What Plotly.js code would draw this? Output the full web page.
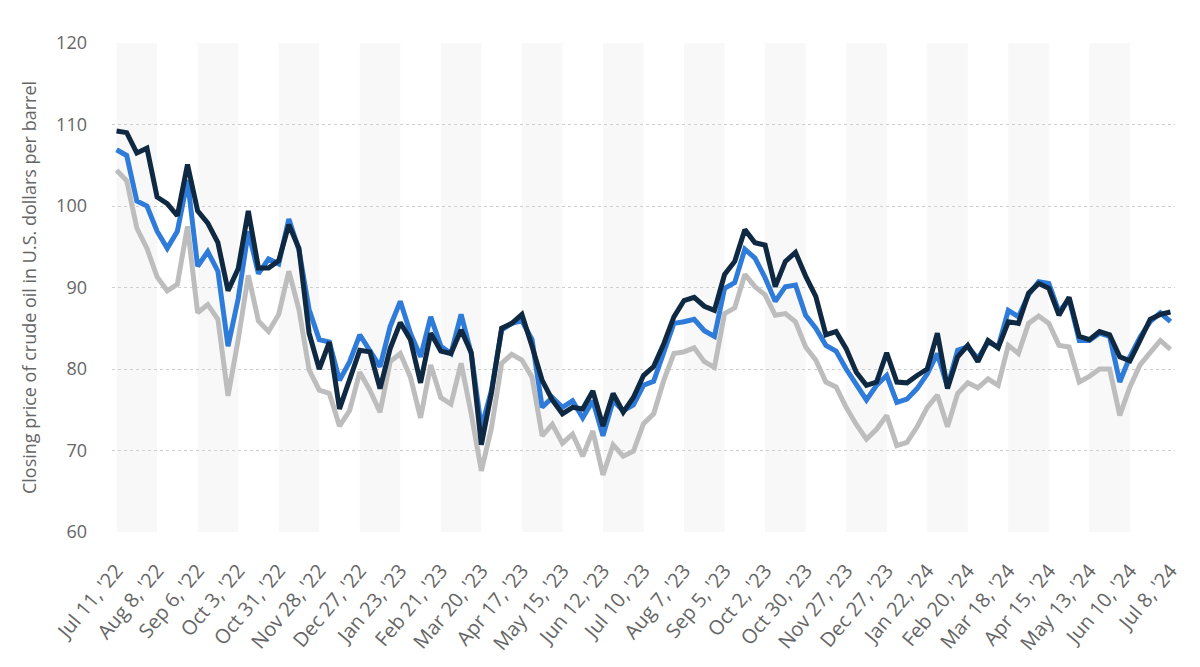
<!DOCTYPE html>
<html>
<head>
<meta charset="utf-8">
<script src="https://cdn.plot.ly/plotly-3.0.1.min.js"></script>
<style>
  html,body{margin:0;padding:0;background:#fff;}
  #chart{width:1200px;height:667px;}
</style>
</head>
<body>
<div id="chart"></div>
<script>
// weekly closing prices, Jul 11 '22 .. Jul 8 '24 (105 weeks)
const tickLabels = ["Jul 11, '22","Aug 8, '22","Sep 6, '22","Oct 3, '22","Oct 31, '22","Nov 28, '22",
  "Dec 27, '22","Jan 23, '23","Feb 21, '23","Mar 20, '23","Apr 17, '23","May 15, '23","Jun 12, '23",
  "Jul 10, '23","Aug 7, '23","Sep 5, '23","Oct 2, '23","Oct 30, '23","Nov 27, '23","Dec 27, '23",
  "Jan 22, '24","Feb 20, '24","Mar 18, '24","Apr 15, '24","May 13, '24","Jun 10, '24","Jul 8, '24"];

const brent = [109.2,109.0,106.5,107.1,101.1,100.3,98.8,105.1,99.4,97.9,95.5,89.6,92.3,99.4,92.4,92.4,93.3,97.7,94.8,84.4,
  80.0,83.3,75.1,78.6,82.3,82.1,77.6,82.5,85.7,83.6,78.3,84.4,82.2,81.9,84.8,82.0,70.7,77.1,85.0,85.6,
  86.7,82.8,78.6,76.2,74.5,75.3,75.1,77.3,73.0,77.0,74.7,76.5,79.2,80.3,83.1,86.4,88.4,88.8,87.7,87.2,
  91.6,93.2,97.1,95.5,95.2,90.1,93.2,94.3,91.4,88.9,84.2,84.6,82.5,79.6,78.0,78.4,82.0,78.4,78.3,79.2,
  80.0,84.4,77.6,81.5,82.9,80.9,83.5,82.6,85.8,85.6,89.3,90.5,89.9,86.6,88.8,84.0,83.6,84.6,84.2,81.5,
  81.0,83.5,86.1,86.7,87.0];

const opec = [106.9,106.2,100.6,100.0,96.9,94.8,96.9,103.2,92.6,94.4,92.0,82.8,88.6,96.9,91.7,93.5,92.9,98.4,94.6,87.3,
  83.6,83.3,78.6,80.9,84.2,82.1,80.3,85.2,88.3,84.4,81.5,86.4,82.8,81.9,86.7,81.9,72.8,77.4,84.8,85.6,
  85.9,83.6,75.3,76.5,75.3,76.1,74.0,76.1,71.8,76.1,74.9,75.6,78.0,78.5,82.1,85.6,85.8,86.1,84.7,84.0,
  89.9,90.6,94.7,93.6,91.2,88.3,90.1,90.3,86.6,85.0,82.9,82.2,80.0,78.2,76.2,78.0,79.2,75.9,76.3,77.6,
  79.4,81.9,77.8,82.3,82.7,81.3,83.3,82.7,87.2,86.4,89.1,90.7,90.5,87.0,88.6,83.5,83.5,84.4,84.0,78.4,
  81.5,83.9,85.8,86.9,85.8];

const wti = [104.4,103.1,97.3,94.8,91.3,89.6,90.4,97.5,86.9,87.9,86.1,76.7,83.6,91.5,85.9,84.6,86.7,92.0,87.3,79.9,
  77.4,77.0,73.0,74.9,79.6,77.4,74.7,80.9,81.9,79.0,74.0,80.5,76.5,75.7,80.7,74.5,67.5,72.8,80.7,81.8,
  81.1,79.0,71.8,73.2,70.9,72.0,69.3,72.4,67.0,70.7,69.3,69.9,73.3,74.5,78.6,81.9,82.1,82.6,80.9,80.2,
  86.8,87.5,91.6,90.1,89.1,86.6,86.8,85.8,82.7,81.1,78.4,77.8,75.3,73.2,71.4,72.6,74.3,70.6,71.0,72.9,
  75.3,76.8,72.9,77.0,78.3,77.7,78.8,78.0,82.9,81.9,85.6,86.5,85.6,82.9,82.7,78.4,79.1,80.0,80.0,74.3,
  77.8,80.5,82.0,83.5,82.4];

const weeks = brent.map((_, i) => i);
const tickStep = 4;
const tickVals = tickLabels.map((_, k) => k * tickStep);

const line = (name, y, color) => ({
  type:"scatter", mode:"lines", name, x:weeks, y,
  line:{color, width:5}, hoverinfo:"x+y"
});

// alternating background bands, one per tick interval
const bands = [];
for (let k = 0; k < tickLabels.length - 1; k += 2) {
  bands.push({type:"rect", xref:"x", yref:"y", x0:k*tickStep, x1:(k+1)*tickStep, y0:60, y1:120,
    fillcolor:"#f8f8f8", line:{width:0}, layer:"below"});
}

const layout = {
  width:1200, height:667,
  paper_bgcolor:"#fff", plot_bgcolor:"#fff",
  font:{family:"Open Sans, Noto Sans, sans-serif", color:"#666", size:14},
  margin:{l:112, r:25, t:43, b:135},
  showlegend:false,
  shapes:bands,
  xaxis:{
    range:[-0.45, 104.45], showgrid:false, zeroline:false, showline:false,
    tickmode:"array", tickvals:tickVals, ticktext:tickLabels, tickangle:-50,
    ticks:"", ticklabelstandoff:22, tickfont:{size:20, color:"#666"}, automargin:false
  },
  yaxis:{
    range:[60,120], dtick:10, tick0:60, zeroline:false, showline:false,
    gridcolor:"#cfcfcf", griddash:"dot", gridwidth:1,
    ticks:"", ticklabelstandoff:24, tickfont:{size:18, color:"#666"},
    title:{text:"Closing price of crude oil in U.S. dollars per barrel", font:{size:18, color:"#666"}, standoff:14},
    automargin:false
  }
};

Plotly.newPlot("chart", [
  line("WTI", wti, "#bdbdbd"),
  line("OPEC basket", opec, "#2e7bd9"),
  line("Brent", brent, "#0e2941")
], layout, {displayModeBar:false, staticPlot:true});
</script>
</body>
</html>
